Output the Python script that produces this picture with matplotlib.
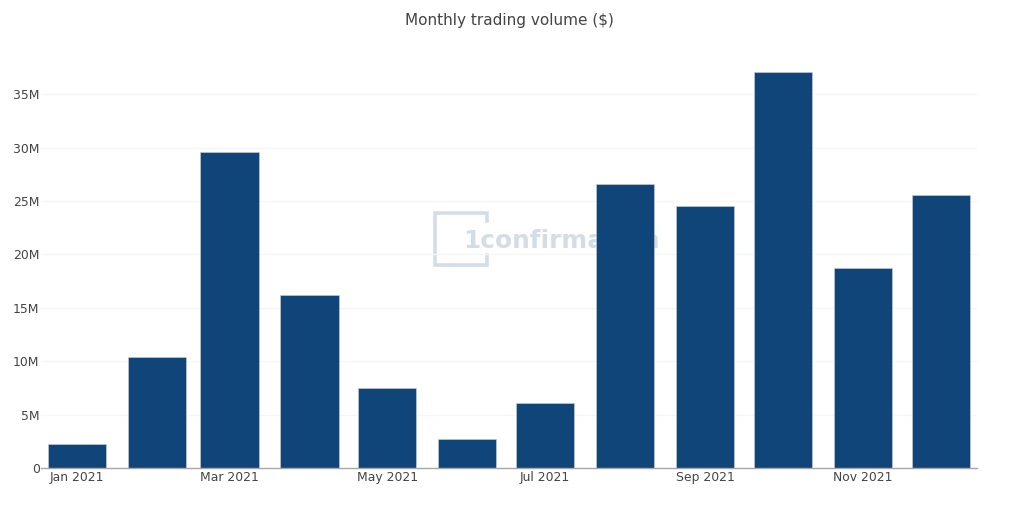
import matplotlib
matplotlib.use("Agg")
import matplotlib.pyplot as plt
import matplotlib.dates as mdates
from matplotlib.lines import Line2D
from datetime import datetime, timedelta

W = 1018
H = 509

months = ["2021-%02d-01" % m for m in range(1, 13)]
volume = [2.25, 10.35, 29.55, 16.2, 7.5, 2.72, 6.1, 26.6, 24.55, 37.1, 18.75, 25.6]
y_ticks = [0, 5, 10, 15, 20, 25, 30, 35]
y_labels = ["0", "5M", "10M", "15M", "20M", "25M", "30M", "35M"]
tick_months = ["2021-01-01", "2021-03-01", "2021-05-01", "2021-07-01", "2021-09-01", "2021-11-01"]

BLUE = "#104579"
TEXT = "#444444"
WMARK = "#d3dde7"

dates = [datetime.strptime(d, "%Y-%m-%d") for d in months]

fig = plt.figure(figsize=(W / 100, H / 100), dpi=100)
# axes placed in pixels, same as the plot area of the original
left, right, top, bottom = 41, 977, 52, 468
ax = fig.add_axes([left / W, 1 - bottom / H, (right - left) / W, (bottom - top) / H])

ax.bar(dates, volume, width=22.5, color=BLUE, edgecolor="#c9d3de", linewidth=0.4, zorder=3)

ax.set_xlim(dates[0] - timedelta(days=13.85), dates[-1] + timedelta(days=14.05))
ax.set_ylim(0, (bottom - top) / 10.68)

ax.set_yticks(y_ticks)
ax.set_yticklabels(y_labels)
ax.set_xticks([datetime.strptime(d, "%Y-%m-%d") for d in tick_months])
ax.xaxis.set_major_formatter(mdates.DateFormatter("%b %Y"))
ax.tick_params(axis="both", length=0, labelsize=8.95, labelcolor=TEXT)
ax.tick_params(axis="x", pad=2.3)
ax.tick_params(axis="y", pad=1)

ax.grid(axis="y", color="#f5f6f8", linewidth=1, zorder=0)
ax.grid(axis="x", visible=False)
for s in ["top", "right", "left"]:
    ax.spines[s].set_visible(False)
ax.spines["bottom"].set_color("#a8a8a8")
ax.spines["bottom"].set_linewidth(1)
ax.spines["bottom"].set_zorder(4)

fig.text(509 / W, 1 - 20 / H, "Monthly trading volume ($)", ha="center", va="center",
         fontsize=10.95, color=TEXT)

# watermark, sits over the grid but under the bars
px = [(487, 221), (487, 213), (435, 213), (435, 265), (487, 265), (487, 255)]
wm = Line2D([p[0] / W for p in px], [1 - p[1] / H for p in px], transform=fig.transFigure,
            color=WMARK, linewidth=2.6, solid_joinstyle="miter", zorder=1)
ax.add_artist(wm)
ax.text(463 / W, 1 - 241 / H, "1confirmation", transform=fig.transFigure, ha="left", va="center",
        fontsize=17.8, fontweight="bold", color=WMARK, zorder=1)

fig.savefig("out.png", dpi=100)
